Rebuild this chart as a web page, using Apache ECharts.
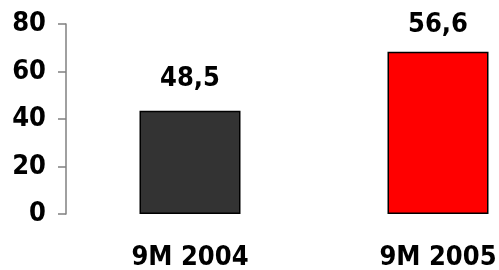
<!DOCTYPE html>
<html>
<head>
<meta charset="utf-8">
<script src="https://cdn.jsdelivr.net/npm/echarts@6/dist/echarts.min.js"></script>
<style>
  html, body { margin: 0; padding: 0; background: #fff; }
  #chart { width: 499px; height: 270px; }
</style>
</head>
<body>
<div id="chart"></div>
<script>
  // categories and bar heights as drawn, plus the printed labels
  var categories = ["9M 2004", "9M 2005"];
  var barValues = [43.5, 68.3];
  var barLabels = ["48,5", "56,6"];
  var barColors = ["#333333", "#ff0000"];
  var labelGaps = [18, 13];

  var myChart = echarts.init(document.getElementById("chart"));
  var font = "'DejaVu Sans Condensed', 'DejaVu Sans', sans-serif";

  var option = {
    animation: false,
    grid: {
      left: 66,
      width: 496,
      top: 24,
      bottom: 56,
      outerBoundsMode: "none"
    },
    xAxis: {
      type: "category",
      data: categories,
      axisLine: { show: false },
      axisTick: { show: false },
      axisLabel: {
        margin: 30,
        color: "#000",
        fontFamily: font,
        fontWeight: "bold",
        fontSize: 27
      }
    },
    yAxis: {
      type: "value",
      min: 0,
      max: 80,
      interval: 20,
      splitLine: { show: false },
      axisLine: { show: true, lineStyle: { color: "#808080", width: 1.5 } },
      axisTick: { show: true, length: 8, lineStyle: { color: "#808080", width: 1.5 } },
      axisLabel: {
        margin: 20,
        color: "#000",
        fontFamily: font,
        fontWeight: "bold",
        fontSize: 27
      }
    },
    series: [{
      type: "bar",
      barWidth: 101,
      data: barValues.map(function (v, i) {
        return {
          value: v,
          itemStyle: { color: barColors[i], borderColor: "#000", borderWidth: 1.5 },
          label: { distance: labelGaps[i] }
        };
      }),
      label: {
        show: true,
        position: "top",
        color: "#000",
        fontFamily: font,
        fontWeight: "bold",
        fontSize: 27,
        formatter: function (p) {
          return barLabels[p.dataIndex];
        }
      }
    }]
  };
  myChart.setOption(option);
</script>
</body>
</html>
